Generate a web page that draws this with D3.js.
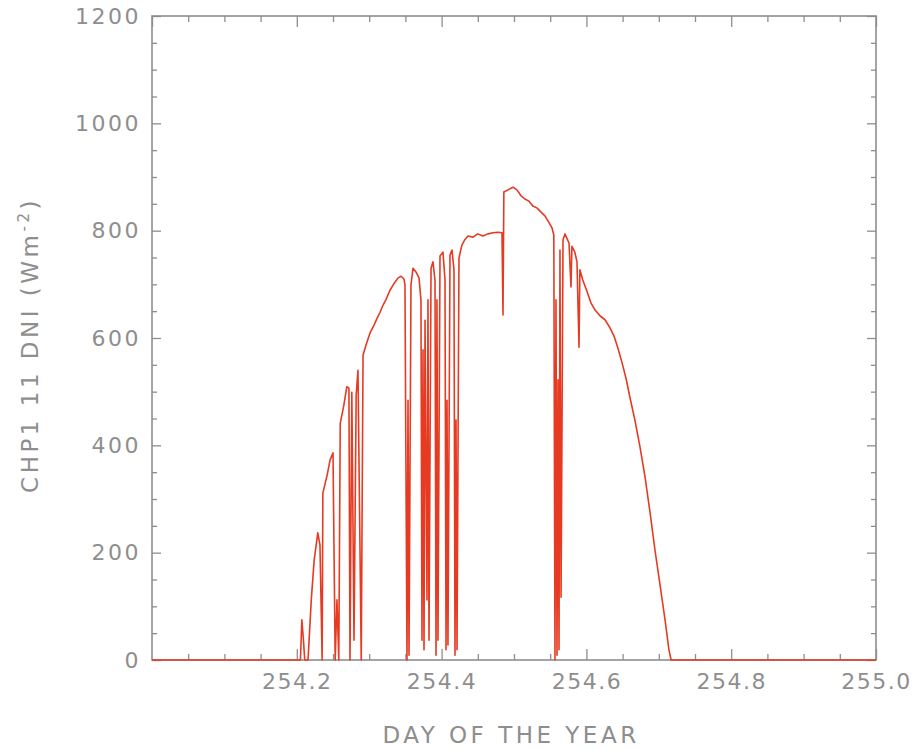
<!DOCTYPE html>
<html>
<head>
<meta charset="utf-8">
<script src="https://cdn.jsdelivr.net/npm/d3@7"></script>
<style>
  html, body { margin: 0; padding: 0; background: #fff; }
  svg { display: block; }
  text { font-family: "DejaVu Sans", sans-serif; fill: #8e8e8e; }
</style>
</head>
<body>
<svg id="chart" width="919" height="749"></svg>
<script>
// ---- data ----
const day = [
  254.000, 254.204, 254.205, 254.207, 254.209, 254.211, 254.2155,
  254.220, 254.224, 254.229, 254.232, 254.235, 254.236, 254.242, 254.246, 254.250,
  254.253, 254.2555, 254.258, 254.260, 254.265, 254.269, 254.272, 254.2735, 254.276,
  254.279, 254.282, 254.2845, 254.289, 254.2915, 254.2956, 254.301, 254.3066, 254.311,
  254.315, 254.319, 254.323, 254.3287, 254.334, 254.340, 254.344, 254.348,
  254.3494, 254.3522, 254.3536, 254.3550, 254.3577, 254.3605, 254.3646, 254.3688,
  254.3715, 254.3729, 254.3743, 254.3757, 254.3771, 254.3798, 254.3812, 254.3826,
  254.3854, 254.3881, 254.3909, 254.3923, 254.3936, 254.3950, 254.3978, 254.4019,
  254.4047, 254.4061, 254.4075, 254.4088, 254.4116, 254.4144, 254.4171, 254.4185,
  254.4199, 254.4213, 254.424, 254.428, 254.432, 254.4365,
  254.4434, 254.450, 254.457, 254.464, 254.471, 254.478, 254.4834, 254.4848, 254.486,
  254.4917, 254.4986, 254.504, 254.5097, 254.515, 254.5207, 254.526, 254.532, 254.537,
  254.543, 254.548, 254.5525, 254.555, 254.5566, 254.558, 254.5594, 254.5608, 254.5622,
  254.5635, 254.565,
  254.5677, 254.5704, 254.573, 254.576, 254.5787, 254.580, 254.584, 254.587, 254.5898,
  254.591, 254.595, 254.601, 254.6064, 254.612, 254.619, 254.6257, 254.6326, 254.638,
  254.6436, 254.649, 254.6547, 254.660, 254.667, 254.674, 254.681, 254.688, 254.6947,
  254.7017, 254.7086, 254.714, 254.717, 255.000
];
const dni = [
  0, 0, 0, 75, 40, 0, 0,
  112, 186, 237, 214, 0, 311, 345, 373, 386,
  0, 112, 0, 441, 475, 509, 507, 0, 499,
  37, 494, 540, 0, 568, 587, 609, 624, 637,
  648, 661, 671, 689, 701, 712, 715, 710,
  699, 0, 484, 9, 699, 730, 723, 712,
  671, 37, 578, 19, 633, 112, 671, 37,
  730, 742, 708, 9, 671, 37, 753, 760,
  708, 19, 484, 28, 755, 764, 727, 9,
  447, 19, 749, 773, 783, 790,
  788, 794, 790, 794, 796, 797, 796, 643, 872,
  876, 881, 876, 865, 859, 855, 846, 842, 835,
  827, 816, 805, 792, 0, 671, 9, 522, 19,
  764, 117,
  783, 794, 786, 777, 695, 771, 760, 742, 583,
  727, 708, 686, 665, 652, 641, 634, 619, 604,
  581, 555, 525, 490, 447, 397, 341, 274, 205,
  140, 75, 19, 0, 0
];
const xTicks = [254.2, 254.4, 254.6, 254.8, 255.0];
const yTicks = [0, 200, 400, 600, 800, 1000, 1200];
const xTitle = "DAY OF THE YEAR";
const yTitle = "CHP1 11 DNI (Wm";

// ---- layout ----
const svg = d3.select("#chart");
const L = 152, R = 876, T = 16, B = 660;
const x = d3.scaleLinear().domain([254, 255]).range([L, R]);
const y = d3.scaleLinear().domain([0, 1200]).range([B, T]);
const gray = "#8e8e8e";

const xMinor = d3.range(254, 255.0001, 0.05).map(v => +v.toFixed(2)).filter(v => !xTicks.includes(v) && v !== 254);
const yMinor = d3.range(0, 1201, 50).filter(v => v % 200 !== 0);

function styleAxis(g) {
  g.select(".domain").remove();
  g.selectAll(".tick line").attr("stroke", gray).attr("stroke-width", 1.3);
  g.selectAll(".tick text")
    .attr("fill", gray)
    .style("font-size", "22px")
    .style("letter-spacing", "2.5px")
    .style("font-family", "'DejaVu Sans', sans-serif");
}

// bottom
svg.append("g").attr("transform", `translate(0,${B})`)
  .call(d3.axisBottom(x).tickValues(xTicks).tickSize(-11).tickPadding(13).tickFormat(d3.format(".1f")))
  .call(styleAxis)
  .selectAll(".tick text").style("letter-spacing", "1.5px");
svg.append("g").attr("transform", `translate(0,${B})`)
  .call(d3.axisBottom(x).tickValues(xMinor).tickSize(-6).tickFormat(""))
  .call(styleAxis);
// top
svg.append("g").attr("transform", `translate(0,${T})`)
  .call(d3.axisTop(x).tickValues(xTicks.concat([254])).tickSize(-11).tickFormat(""))
  .call(styleAxis);
svg.append("g").attr("transform", `translate(0,${T})`)
  .call(d3.axisTop(x).tickValues(xMinor).tickSize(-6).tickFormat(""))
  .call(styleAxis);
// left
svg.append("g").attr("transform", `translate(${L},0)`)
  .call(d3.axisLeft(y).tickValues(yTicks).tickSize(-9).tickPadding(11).tickFormat(d3.format("d")))
  .call(styleAxis);
svg.append("g").attr("transform", `translate(${L},0)`)
  .call(d3.axisLeft(y).tickValues(yMinor).tickSize(-5).tickFormat(""))
  .call(styleAxis);
// right
svg.append("g").attr("transform", `translate(${R},0)`)
  .call(d3.axisRight(y).tickValues(yTicks).tickSize(-9).tickFormat(""))
  .call(styleAxis);
svg.append("g").attr("transform", `translate(${R},0)`)
  .call(d3.axisRight(y).tickValues(yMinor).tickSize(-5).tickFormat(""))
  .call(styleAxis);

// frame
svg.append("rect")
  .attr("x", L).attr("y", T).attr("width", R - L).attr("height", B - T)
  .attr("fill", "none").attr("stroke", gray).attr("stroke-width", 1.6);

// data line
const pts = day.map((d, i) => [d, dni[i]]);
svg.append("path")
  .datum(pts)
  .attr("fill", "none")
  .attr("stroke", "#e63a22")
  .attr("stroke-width", 1.6)
  .attr("stroke-linejoin", "round")
  .attr("d", d3.line().x(d => x(d[0])).y(d => y(d[1])));

// titles
svg.append("text")
  .attr("x", 511).attr("y", 743)
  .attr("text-anchor", "middle")
  .style("font-size", "23px")
  .style("letter-spacing", "3.5px")
  .text(xTitle);

const yt = svg.append("text")
  .attr("transform", "translate(38,345) rotate(-90)")
  .attr("text-anchor", "middle")
  .style("font-size", "23px")
  .style("letter-spacing", "3.5px");
yt.append("tspan").text(yTitle);
yt.append("tspan").attr("dy", -9).style("font-size", "15px").text("-2");
yt.append("tspan").attr("dy", 9).text(")");
</script>
</body>
</html>
